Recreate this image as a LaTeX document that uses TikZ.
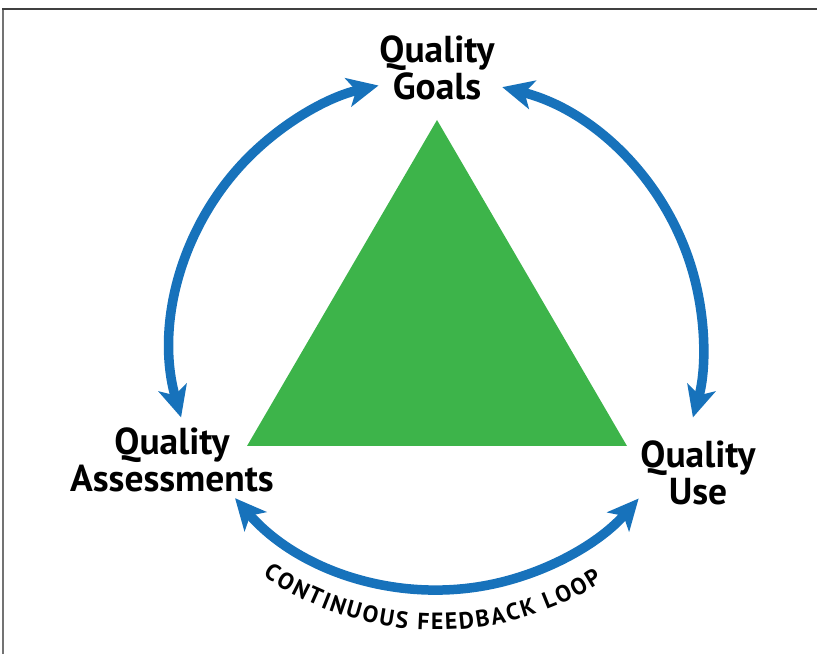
\documentclass[tikz,border=0pt]{standalone}
\usepackage{fontspec}
\setmainfont{PT Sans}
\usetikzlibrary{arrows.meta,decorations.text,calc}
\definecolor{loopblue}{RGB}{23,114,187}
\definecolor{trigreen}{RGB}{61,180,74}
\begin{document}
\begin{tikzpicture}[x=1pt,y=1pt,
  lbl/.style={font=\fontsize{37.5}{36.5}\selectfont\bfseries, align=center, inner sep=0pt, anchor=north},
  cycletip/.tip={Stealth[length=31pt,width=29pt,inset=8pt]},
  loop/.style={draw=loopblue, line width=9.5pt, cycletip-cycletip}]
\useasboundingbox (0,0) rectangle (817,654);
% frame edges
\draw[line width=1.5pt, black!55] (3,0) -- (3,645);
\draw[line width=2pt, black!75] (2.25,645) -- (817,645);

% centres of the circular arrows
\coordinate (ctop) at (437,309);
\coordinate (cbot) at (437,332);

% triangle
\coordinate (apex) at (437,534);
\coordinate (bl) at (247,208);
\coordinate (br) at (627,208);
\fill[trigreen] (apex) -- (bl) -- (br) -- cycle;

% labels
\node[lbl] (goals) at (437,618) {Quality\\Goals};
\node[lbl] (assess) at (172,226) {Quality\\Assessments};
\node[lbl] (use) at (698,213) {Quality\\Use};

% arcs between the labels
\coordinate (a1) at ($(ctop)+(195.8:266)$);
\coordinate (a2) at ($(ctop)+(75.8:266)$);
\coordinate (a3) at ($(cbot)+(221.1:268)$);
\draw[loop] (a1) arc[start angle=195.8, end angle=102.7, radius=266];
\draw[loop] (a2) arc[start angle=75.8, end angle=-15.8, radius=266];
\draw[loop] (a3) arc[start angle=221.1, end angle=318.8, radius=268];

% curved caption under the bottom arc
\coordinate (t0) at ($(cbot)+(235.5:308)$);
\path[decorate, decoration={text along path,
    text format delimiters={|}{|},
    text={|\fontsize{23.5}{23.5}\selectfont\bfseries|CONTINUOUS FEEDBACK LOOP},
    text align={fit to path}}]
  (t0) arc[start angle=235.5, end angle=302.5, radius=308];
\end{tikzpicture}
\end{document}
